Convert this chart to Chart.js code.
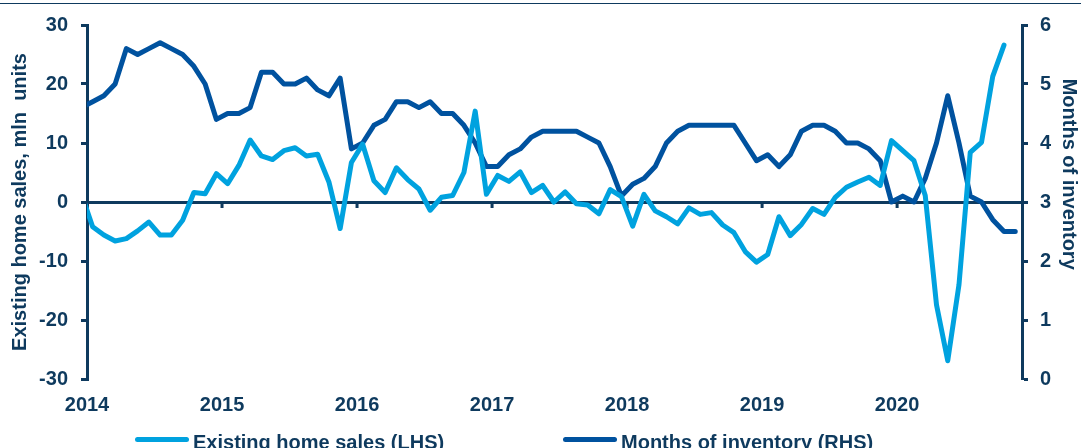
<!DOCTYPE html>
<html>
<head>
<meta charset="utf-8">
<script src="https://cdn.jsdelivr.net/npm/chart.js@4.4.1/dist/chart.umd.min.js"></script>
<style>
  html, body { margin: 0; padding: 0; background: #ffffff; overflow: hidden; }
  #wrap { position: relative; width: 1081px; height: 448px; overflow: hidden; }
  #topline { position: absolute; left: 0; top: 3px; width: 1081px; height: 1px; background: #0e3a5e; }
  #legend { position: absolute; left: 0; top: 432px; width: 1081px; height: 30px;
            font: bold 20px "Liberation Sans", Arial, sans-serif; color: #0e3a5e; }
  .item { position: absolute; top: 0; white-space: nowrap; line-height: 20px; }
  .swatch { position: absolute; top: 5px; height: 5px; width: 54px; border-radius: 3px; }
</style>
</head>
<body>
<div id="wrap">
  <canvas id="chart" width="1081" height="448"></canvas>
  <div id="topline"></div>
  <div id="legend"></div>
</div>
<script>
// monthly data, Dec 2013 .. Oct/Nov 2020 (Dec 2013 point is cut off by the axis)
const years = [2014, 2015, 2016, 2017, 2018, 2019, 2020];
const firstMonth = -1; // months after Jan 2014

// Existing home sales (LHS)
const homeSales = [
  1.4,
  -4.2, -5.6, -6.6, -6.2, -4.9, -3.4, -5.6, -5.6, -3.1, 1.6, 1.4, 4.8,
  3.1, 6.2, 10.5, 7.8, 7.2, 8.7, 9.2, 7.8, 8.1, 3.4, -4.5, 6.7,
  9.8, 3.6, 1.6, 5.8, 3.8, 2.2, -1.4, 0.8, 1.1, 5.0, 15.4, 1.3,
  4.5, 3.5, 5.1, 1.6, 2.8, 0.0, 1.7, -0.3, -0.5, -2.0, 2.1, 0.9,
  -4.1, 1.3, -1.5, -2.5, -3.7, -1.0, -2.1, -1.8, -3.9, -5.2, -8.4, -10.2,
  -8.9, -2.5, -5.7, -3.8, -1.1, -2.1, 0.8, 2.5, 3.4, 4.2, 2.8, 10.4,
  8.7, 7.0, 1.1, -17.4, -26.9, -14.0, 8.4, 10.1, 21.3, 26.6
];

// Months of inventory (RHS)
const inventory = [
  4.6,
  4.7, 4.8, 5.0, 5.6, 5.5, 5.6, 5.7, 5.6, 5.5, 5.3, 5.0, 4.4,
  4.5, 4.5, 4.6, 5.2, 5.2, 5.0, 5.0, 5.1, 4.9, 4.8, 5.1, 3.9,
  4.0, 4.3, 4.4, 4.7, 4.7, 4.6, 4.7, 4.5, 4.5, 4.3, 4.0, 3.6,
  3.6, 3.8, 3.9, 4.1, 4.2, 4.2, 4.2, 4.2, 4.1, 4.0, 3.6, 3.1,
  3.3, 3.4, 3.6, 4.0, 4.2, 4.3, 4.3, 4.3, 4.3, 4.3, 4.0, 3.7,
  3.8, 3.6, 3.8, 4.2, 4.3, 4.3, 4.2, 4.0, 4.0, 3.9, 3.7, 3.0,
  3.1, 3.0, 3.4, 4.0, 4.8, 4.0, 3.1, 3.0, 2.7, 2.5, 2.5
];

const navy = "#0e3a5e";
const lightBlue = "#00a2df";
const darkBlue = "#00529f";
const font = { family: "'Liberation Sans', Arial, sans-serif", size: 20, weight: "bold" };

// points sit in the middle of each month
function toPoints(values) {
  return values.map((v, k) => ({ x: firstMonth + k + 0.5, y: v }));
}

// small year ticks hanging off the zero line
const zeroTicks = {
  id: "zeroTicks",
  beforeDatasetsDraw(chart) {
    const c = chart.ctx;
    const xs = chart.scales.x;
    const y0 = chart.scales.y.getPixelForValue(0);
    c.save();
    c.fillStyle = navy;
    years.forEach((yr, k) => {
      if (k === 0) return;
      const px = xs.getPixelForValue(k * 12);
      c.fillRect(px - 1.5, y0, 3, 6);
    });
    c.restore();
  }
};

new Chart(document.getElementById("chart").getContext("2d"), {
  type: "line",
  data: {
    datasets: [
      {
        label: "Existing home sales (LHS)",
        data: toPoints(homeSales),
        yAxisID: "y",
        borderColor: lightBlue,
        borderWidth: 5,
        borderJoinStyle: "round",
        borderCapStyle: "round",
        pointRadius: 0,
        tension: 0,
        clip: 0,
      },
      {
        label: "Months of inventory (RHS)",
        data: toPoints(inventory),
        yAxisID: "y1",
        borderColor: darkBlue,
        borderWidth: 5,
        borderJoinStyle: "round",
        borderCapStyle: "round",
        pointRadius: 0,
        tension: 0,
        clip: 0,
      },
    ],
  },
  options: {
    responsive: false,
    animation: false,
    layout: { padding: { top: 22, left: 0, right: 0, bottom: 0 } },
    plugins: {
      legend: { display: false },
      tooltip: { enabled: false },
    },
    scales: {
      x: {
        type: "linear",
        min: 0,
        max: 83.1,
        afterBuildTicks: (s) => {
          s.ticks = years.map((yr, k) => ({ value: k * 12 }));
        },
        afterFit: (s) => {
          s.height = 69;
        },
        ticks: {
          color: navy,
          font: font,
          padding: 14,
          maxRotation: 0,
          autoSkip: false,
          callback: (v) => years[Math.round(v / 12)],
        },
        grid: { display: false, drawTicks: false },
        border: { display: false },
      },
      y: {
        position: "left",
        min: -30,
        max: 30,
        afterFit: (s) => {
          s.width = 87;
        },
        ticks: { stepSize: 10, color: navy, font: font, padding: 13 },
        grid: {
          color: (c) => (c.tick && c.tick.value === 0 ? navy : "rgba(0,0,0,0)"),
          lineWidth: 3,
          tickColor: navy,
          tickWidth: 3,
          tickLength: 6,
        },
        border: { color: navy, width: 3 },
        title: {
          display: true,
          text: "Existing home sales, mln  units",
          color: navy,
          font: font,
          padding: { top: 8, bottom: 0 },
        },
      },
      y1: {
        position: "right",
        min: 0,
        max: 6,
        afterFit: (s) => {
          s.width = 59;
        },
        ticks: { stepSize: 1, color: navy, font: font, padding: 12 },
        grid: {
          drawOnChartArea: false,
          tickColor: navy,
          tickWidth: 3,
          tickLength: 6,
        },
        border: { color: navy, width: 3 },
        title: {
          display: true,
          text: "Months of inventory" + " ".repeat(10),
          color: navy,
          font: font,
          padding: { top: 0, bottom: 0 },
        },
      },
    },
  },
  plugins: [zeroTicks],
});

// legend under the axis, partly cut by the bottom edge like the original
const legendItems = [
  { label: "Existing home sales (LHS)", color: lightBlue, left: 135 },
  { label: "Months of inventory (RHS)", color: darkBlue, left: 563 },
];
const legend = document.getElementById("legend");
legendItems.forEach((it) => {
  const item = document.createElement("div");
  item.className = "item";
  item.style.left = it.left + "px";
  item.style.paddingLeft = "58px";
  const sw = document.createElement("span");
  sw.className = "swatch";
  sw.style.left = "0px";
  sw.style.background = it.color;
  item.appendChild(sw);
  item.appendChild(document.createTextNode(it.label));
  legend.appendChild(item);
});
</script>
</body>
</html>
